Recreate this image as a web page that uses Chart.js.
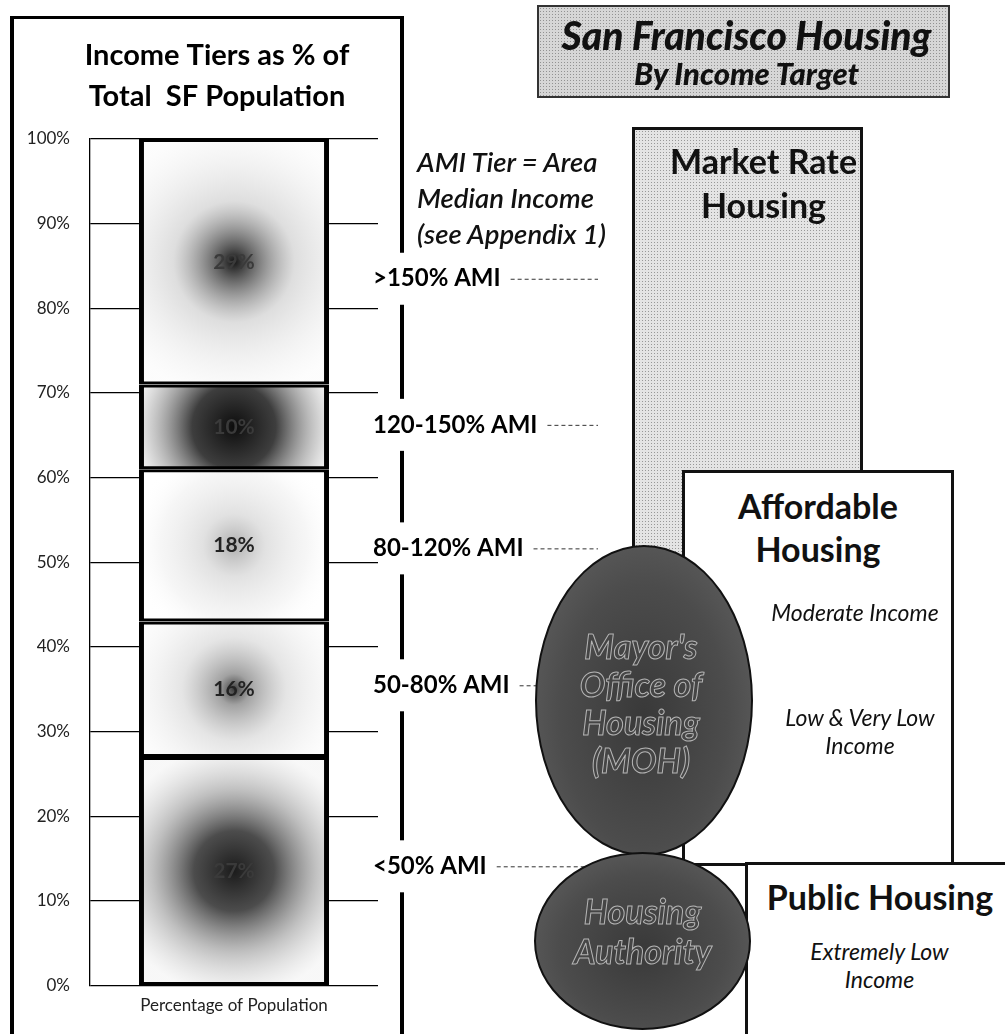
<!DOCTYPE html>
<html>
<head>
<meta charset="utf-8">
<script src="https://cdn.jsdelivr.net/npm/chart.js@4.4.1/dist/chart.umd.min.js"></script>
<style>
  body { margin: 0; background: #fff; }
  #wrap { position: relative; width: 1005px; height: 1034px; overflow: hidden; font-family: Lato, "Open Sans", sans-serif; color: #111; }
  #tiers { position: absolute; left: 0; top: 0; }
  .box { position: absolute; box-sizing: border-box; }
  .grain { background-color: #d6d6d6; background-image: radial-gradient(rgba(90,90,90,0.55) 0.7px, transparent 1px); background-size: 3px 3px; }
  .txt { position: absolute; text-align: center; white-space: nowrap; }
  .oval { position: absolute; box-sizing: border-box; border-radius: 50%; border: 2px solid #111;
          background: radial-gradient(ellipse at 50% 55%, #393939 0%, #4c4c4c 55%, #666 100%); }
  .hollow { color: #454545; -webkit-text-stroke: 1px #b5b5b5; font-style: italic; font-weight: 700; }
</style>
</head>
<body>
<div id="wrap">
  <canvas id="tiers" width="1005" height="1034"></canvas>

  <!-- headline -->
  <div class="box grain" style="left:537px;top:5px;width:413px;height:93px;border:2px solid #333;"></div>
  <div class="txt" style="left:540px;width:413px;top:11px;font-size:39px;font-weight:900;font-style:italic;line-height:48px;">San Francisco Housing</div>
  <div class="txt" style="left:540px;width:413px;top:56px;font-size:31px;font-weight:900;font-style:italic;line-height:34px;">By Income Target</div>

  <!-- note -->
  <div class="txt" style="left:417px;top:144px;text-align:left;font-size:27.5px;font-style:italic;font-weight:600;line-height:36px;">AMI Tier = Area<br>Median Income<br>(see Appendix 1)</div>

  <!-- housing types -->
  <div class="box grain" style="left:632px;top:127px;width:231px;height:480px;border:3px solid #111;background-color:#e4e4e4;"></div>
  <div class="txt" style="left:648px;width:231px;top:139px;font-size:34px;font-weight:700;line-height:44px;">Market Rate<br>Housing</div>

  <div class="box" style="left:682px;top:470px;width:272px;height:396px;border:3px solid #111;background:#fff;"></div>
  <div class="txt" style="left:682px;width:272px;top:484px;font-size:34px;font-weight:700;line-height:43px;">Affordable<br>Housing</div>
  <div class="txt" style="left:750px;width:210px;top:598px;font-size:23px;font-style:italic;line-height:28px;">Moderate Income</div>
  <div class="txt" style="left:755px;width:210px;top:703px;font-size:23px;font-style:italic;line-height:28px;">Low &amp; Very Low<br>Income</div>

  <div class="box" style="left:745px;top:862px;width:280px;height:200px;border:3px solid #111;background:#fff;"></div>
  <div class="txt" style="left:745px;width:270px;top:876px;font-size:34px;font-weight:700;line-height:42px;">Public Housing</div>
  <div class="txt" style="left:772px;width:215px;top:937px;font-size:23px;font-style:italic;line-height:28px;">Extremely Low<br>Income</div>

  <!-- agencies -->
  <div class="oval" style="left:535px;top:545px;width:218px;height:311px;"></div>
  <div class="txt hollow" style="left:532px;width:218px;top:627px;font-size:34px;line-height:38px;">Mayor's<br>Office of<br>Housing<br>(MOH)</div>
  <div class="oval" style="left:534px;top:852px;width:217px;height:178px;"></div>
  <div class="txt hollow" style="left:534px;width:217px;top:891px;font-size:34px;line-height:40px;">Housing<br>Authority</div>
</div>

<script>
// Income tiers, bottom of the stack first
const tiers = ["<50% AMI", "50-80% AMI", "80-120% AMI", "120-150% AMI", ">150% AMI"];
const shares = [27, 16, 18, 10, 29];
const barLabels = ["Percentage of Population"];
const chartTitle = ["Income Tiers as % of", "Total  SF Population"];
const yTickStep = 10;

// look of each tier (same order as tiers)
const shades = [
  [[0, "rgba(15,15,15,0.95)"], [0.32, "rgba(45,45,45,0.85)"], [0.65, "rgba(130,130,130,0.5)"], [1, "rgba(205,205,205,0.15)"]],
  [[0, "rgba(25,25,25,0.85)"], [0.15, "rgba(85,85,85,0.55)"], [0.5, "rgba(180,180,180,0.35)"], [1, "rgba(225,225,225,0.1)"]],
  [[0, "rgba(95,95,95,0.5)"], [0.3, "rgba(170,170,170,0.35)"], [0.7, "rgba(210,210,210,0.2)"], [1, "rgba(255,255,255,0)"]],
  [[0, "rgba(8,8,8,0.98)"], [0.4, "rgba(35,35,35,0.88)"], [0.8, "rgba(150,150,150,0.45)"], [1, "rgba(210,210,210,0.2)"]],
  [[0, "rgba(8,8,8,0.95)"], [0.13, "rgba(55,55,55,0.78)"], [0.45, "rgba(160,160,160,0.35)"], [1, "rgba(230,230,230,0.1)"]]
];
const valueColors = ["#3a3a3a", "#222", "#222", "#3a3a3a", "#3a3a3a"];
const nameShift = [-5, -4, 3, -2, 17];
const leaderEnds = [590, 540, 598, 598, 598];

const FONT = "Lato, 'Open Sans', sans-serif";
Chart.defaults.font.family = FONT;

// white fill + radial shading under each segment, value on top
const shadePlugin = {
  id: "shade",
  beforeDatasetsDraw(chart) {
    const ctx = chart.ctx;
    chart.data.datasets.forEach((ds, i) => {
      chart.getDatasetMeta(i).data.forEach((el) => {
        const left = el.x - el.width / 2;
        const top = Math.min(el.y, el.base);
        const h = Math.abs(el.base - el.y);
        const cx = el.x, cy = top + h / 2;
        const r = Math.max(el.width, h) * 0.55;
        const g = ctx.createRadialGradient(cx, cy, 0, cx, cy, r);
        shades[i].forEach(([o, c]) => g.addColorStop(o, c));
        ctx.save();
        ctx.fillStyle = "#fff";
        ctx.fillRect(left, top, el.width, h);
        ctx.fillStyle = g;
        ctx.fillRect(left, top, el.width, h);
        ctx.restore();
      });
    });
  },
  afterDatasetsDraw(chart) {
    const ctx = chart.ctx;
    ctx.save();
    ctx.font = "bold 21px " + FONT;
    ctx.textAlign = "center";
    ctx.textBaseline = "middle";
    chart.data.datasets.forEach((ds, i) => {
      chart.getDatasetMeta(i).data.forEach((el, j) => {
        ctx.fillStyle = valueColors[i];
        ctx.fillText(ds.data[j] + "%", el.x, (el.y + el.base) / 2);
      });
    });
    ctx.restore();
  }
};

// panel frame, heading, tier names and leader lines
const framePlugin = {
  id: "frame",
  afterDraw(chart) {
    const ctx = chart.ctx;
    const y = chart.scales.y;
    ctx.save();
    ctx.fillStyle = "#000";
    ctx.fillRect(10, 16, 394, 3);
    ctx.fillRect(10, 16, 4, 1018);

    ctx.font = "bold 29px " + FONT;
    ctx.textAlign = "center";
    ctx.textBaseline = "middle";
    chartTitle.forEach((line, k) => ctx.fillText(line, 217, 56 + k * 41));

    ctx.font = "bold 24px " + FONT;
    const mids = [];
    let cum = 0;
    shares.forEach((s, i) => {
      const mid = y.getPixelForValue(cum + s / 2) + nameShift[i];
      cum += s;
      mids.push(mid);
      ctx.fillStyle = "#000";
      ctx.textAlign = "left";
      ctx.fillText(tiers[i], 373, mid);
      const end = 373 + ctx.measureText(tiers[i]).width;
      ctx.strokeStyle = "#333";
      ctx.lineWidth = 1;
      ctx.setLineDash([4, 3]);
      ctx.beginPath();
      ctx.moveTo(end + 10, mid + 0.5);
      ctx.lineTo(leaderEnds[i], mid + 0.5);
      ctx.stroke();
    });
    ctx.setLineDash([]);

    // divider with gaps at the tier names
    let from = 16;
    mids.slice().sort((a, b) => a - b).forEach((m) => {
      ctx.fillRect(400, from, 4, m - 26 - from);
      from = m + 26;
    });
    ctx.fillRect(400, from, 4, 1034 - from);
    ctx.restore();
  }
};

new Chart(document.getElementById("tiers"), {
  type: "bar",
  data: {
    labels: barLabels,
    datasets: tiers.map((t, i) => ({
      label: t,
      data: [shares[i]],
      backgroundColor: "rgba(0,0,0,0)",
      borderColor: "#000",
      borderWidth: { top: 3, bottom: 3, left: 5, right: 5 },
      borderSkipped: false,
      barPercentage: 0.66,
      categoryPercentage: 1
    }))
  },
  options: {
    responsive: false,
    animation: false,
    layout: { padding: { left: 16, right: 627, top: 139, bottom: 15 } },
    plugins: {
      legend: { display: false },
      tooltip: { enabled: false },
      title: { display: false }
    },
    scales: {
      x: {
        stacked: true,
        grid: { display: false, drawTicks: false },
        border: { display: false },
        ticks: { display: false },
        title: { display: true, text: "Percentage of Population", color: "#222", font: { size: 17 }, padding: { top: 10, bottom: 3 } }
      },
      y: {
        stacked: true,
        min: 0,
        max: 100,
        ticks: { stepSize: yTickStep, callback: (v) => v + "%", padding: 20, color: "#222", font: { size: 17 } },
        grid: { color: "#000", lineWidth: 1.3, drawTicks: false },
        border: { display: true, color: "#000", width: 1.3 },
        afterFit(s) { s.width = 74; }
      }
    }
  },
  plugins: [shadePlugin, framePlugin]
});
</script>
</body>
</html>
